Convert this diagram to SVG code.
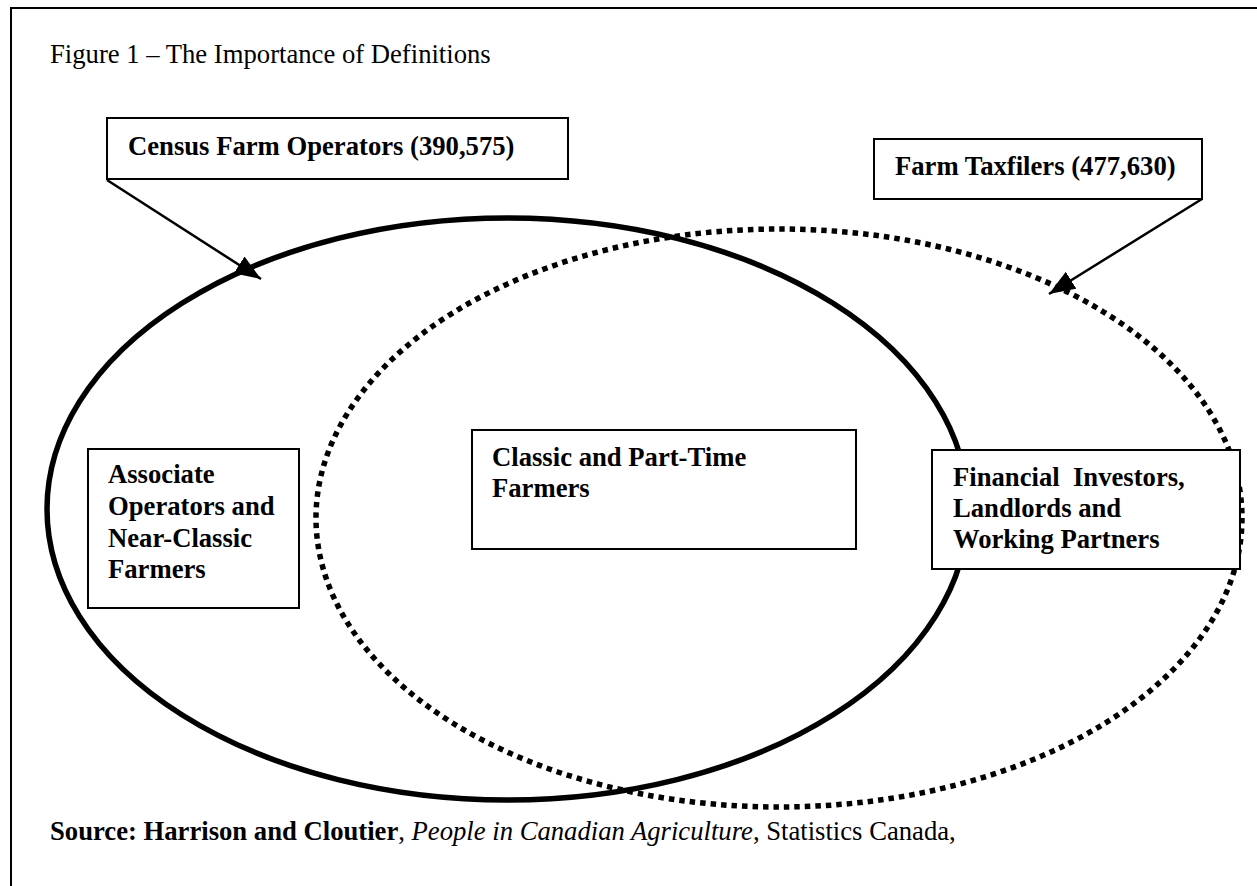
<svg xmlns="http://www.w3.org/2000/svg" width="1257" height="886" viewBox="0 0 1257 886">
<style>
  .t { font-family: "Liberation Serif", "Times New Roman", serif; font-size: 26.67px; fill: #000; }
  .b { font-weight: bold; }
  .i { font-style: italic; }
  .box { fill: #fff; stroke: #000; stroke-width: 2; }
  .solid { fill: none; stroke: #000; stroke-width: 5.5; }
  .dotted { fill: none; stroke: #000; stroke-width: 5.5; stroke-dasharray: 5.5 5; }
  .conn { fill: none; stroke: #000; stroke-width: 2.5; }
</style>
<defs>
  <marker id="arrow" markerUnits="userSpaceOnUse" markerWidth="28" markerHeight="22" refX="26" refY="10" orient="auto">
    <path d="M0,0 L26,10 L0,20 z" fill="#000"/>
  </marker>
</defs>
<rect width="1257" height="886" fill="#fff"/>
<rect x="11" y="8" width="1400" height="1000" fill="none" stroke="#000" stroke-width="2"/>
<text class="t" x="50" y="63">Figure 1 – The Importance of Definitions</text>

<g id="census-set">
  <ellipse class="solid" cx="507.5" cy="509" rx="460.5" ry="291"/>
</g>
<g id="taxfiler-set">
  <ellipse class="dotted" cx="779" cy="518" rx="463" ry="289"/>
</g>

<g id="connectors">
  <line class="conn" x1="107" y1="180" x2="261" y2="279" marker-end="url(#arrow)"/>
  <line class="conn" x1="1202" y1="199" x2="1049" y2="294" marker-end="url(#arrow)"/>
</g>

<g id="census-label">
  <rect class="box" x="107" y="118" width="461" height="61"/>
  <text class="t b" x="128" y="155">Census Farm Operators (390,575)</text>
</g>
<g id="taxfilers-label">
  <rect class="box" x="874" y="139" width="328" height="60"/>
  <text class="t b" x="895" y="175">Farm Taxfilers (477,630)</text>
</g>
<g id="associate">
  <rect class="box" x="88" y="449" width="211" height="159"/>
  <text class="t b" x="108" y="483">Associate</text>
  <text class="t b" x="108" y="515">Operators and</text>
  <text class="t b" x="108" y="547">Near-Classic</text>
  <text class="t b" x="108" y="578">Farmers</text>
</g>
<g id="classic">
  <rect class="box" x="472" y="430" width="384" height="119"/>
  <text class="t b" x="492" y="466">Classic and Part-Time</text>
  <text class="t b" x="492" y="497">Farmers</text>
</g>
<g id="financial">
  <rect class="box" x="932" y="450" width="308" height="119"/>
  <text class="t b" x="953" y="486" xml:space="preserve">Financial  Investors,</text>
  <text class="t b" x="953" y="517">Landlords and</text>
  <text class="t b" x="953" y="548">Working Partners</text>
</g>

<text class="t" x="50" y="840"><tspan class="b">Source: Harrison and Cloutier</tspan>, <tspan class="i">People in Canadian Agriculture</tspan>, Statistics Canada,</text>
</svg>
